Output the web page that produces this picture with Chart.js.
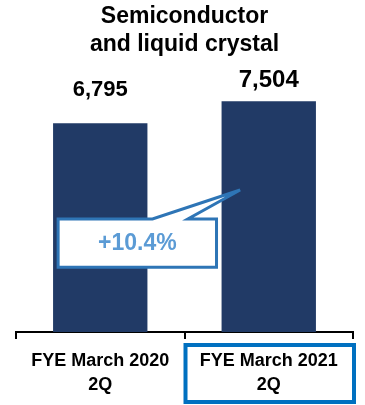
<!DOCTYPE html>
<html>
<head>
<meta charset="utf-8">
<script src="https://cdn.jsdelivr.net/npm/chart.js@4"></script>
<style>
  html, body { margin: 0; padding: 0; background: #fff; }
  #wrap { width: 365px; height: 405px; position: relative; }
</style>
</head>
<body>
<div id="wrap"><canvas id="c"></canvas></div>
<script>
// Net sales, semiconductor and liquid crystal segment (millions of yen)
const titleLines = ['Semiconductor', 'and liquid crystal'];
const categories = [['FYE March 2020', '2Q'], ['FYE March 2021', '2Q']];
const salesValues = [6795, 7504];
const growthLabel = '+10.4%';

// Per-bar label styling: font size and gap above the bar top
const valueFontSizes = [22, 24];
const valueGaps = [33, 21];

const FONT = '"Liberation Sans", Arial, sans-serif';
const BAR_COLOR = '#213a66';
const CALLOUT_BLUE = '#2e75b6';
const CALLOUT_TEXT = '#5b9bd5';
const HIGHLIGHT_BLUE = '#0070c0';

const fmt = v => v.toLocaleString('en-US');

// Value labels above the bars
const valueLabels = {
  id: 'valueLabels',
  afterDatasetsDraw(chart) {
    const ctx = chart.ctx;
    const meta = chart.getDatasetMeta(0);
    ctx.save();
    ctx.fillStyle = '#000';
    ctx.textAlign = 'center';
    ctx.textBaseline = 'middle';
    meta.data.forEach((bar, i) => {
      ctx.font = `bold ${valueFontSizes[i]}px ${FONT}`;
      ctx.fillText(fmt(salesValues[i]), bar.x, bar.y - valueGaps[i]);
    });
    ctx.restore();
  }
};

// Growth callout pointing at the second bar, and a frame round the current period label
const annotations = {
  id: 'annotations',
  afterDraw(chart) {
    const ctx = chart.ctx;
    const xs = chart.scales.x, ys = chart.scales.y;
    const px = v => xs.getPixelForValue(v);
    const py = v => ys.getPixelForValue(v);

    const left = px(-0.25), right = px(0.69);
    const top = py(3680), bottom = py(2110);
    const baseL = px(0.31), baseR = px(0.52);
    const tipX = px(0.83), tipY = py(4620);

    ctx.save();
    ctx.beginPath();
    ctx.moveTo(left, top);
    ctx.lineTo(baseL, top);
    ctx.lineTo(tipX, tipY);
    ctx.lineTo(baseR, top);
    ctx.lineTo(right, top);
    ctx.lineTo(right, bottom);
    ctx.lineTo(left, bottom);
    ctx.closePath();
    ctx.fillStyle = '#fff';
    ctx.fill();
    ctx.lineWidth = 3;
    ctx.lineJoin = 'miter';
    ctx.strokeStyle = CALLOUT_BLUE;
    ctx.stroke();

    ctx.fillStyle = CALLOUT_TEXT;
    ctx.font = `bold 23px ${FONT}`;
    ctx.textAlign = 'center';
    ctx.textBaseline = 'middle';
    ctx.fillText(growthLabel, (left + right) / 2, (top + bottom) / 2 + 1);

    // frame round the second category label
    const half = (px(1) - px(0)) / 2;
    const fx = px(1) - half + 1;
    const fw = 2 * half;
    ctx.lineWidth = 4;
    ctx.strokeStyle = HIGHLIGHT_BLUE;
    ctx.strokeRect(fx, xs.top + 13, fw, 57);
    ctx.restore();
  }
};

new Chart(document.getElementById('c'), {
  type: 'bar',
  data: {
    labels: categories,
    datasets: [{
      data: salesValues,
      backgroundColor: BAR_COLOR,
      borderWidth: 0,
      barPercentage: 0.56,
      categoryPercentage: 1.0
    }]
  },
  options: {
    responsive: true,
    maintainAspectRatio: false,
    animation: false,
    events: [],
    layout: { padding: { left: 16, right: 12, top: 0, bottom: 0 } },
    plugins: {
      legend: { display: false },
      tooltip: { enabled: false },
      title: {
        display: true,
        text: titleLines,
        color: '#000',
        font: { family: FONT, size: 23, weight: 'bold', lineHeight: 1.22 },
        padding: { top: 3, bottom: 27 }
      }
    },
    scales: {
      y: {
        display: false,
        min: 0,
        max: 8000
      },
      x: {
        offset: true,
        grid: {
          offset: true,
          drawOnChartArea: false,
          drawTicks: true,
          tickLength: 7,
          color: '#000',
          lineWidth: 2
        },
        border: { display: true, color: '#000', width: 2 },
        ticks: {
          color: '#000',
          padding: 11,
          maxRotation: 0,
          autoSkip: false,
          font: { family: FONT, size: 18, weight: 'bold', lineHeight: 1.28 }
        },
        afterFit(scale) { scale.height = 73; }
      }
    }
  },
  plugins: [valueLabels, annotations]
});
</script>
</body>
</html>
